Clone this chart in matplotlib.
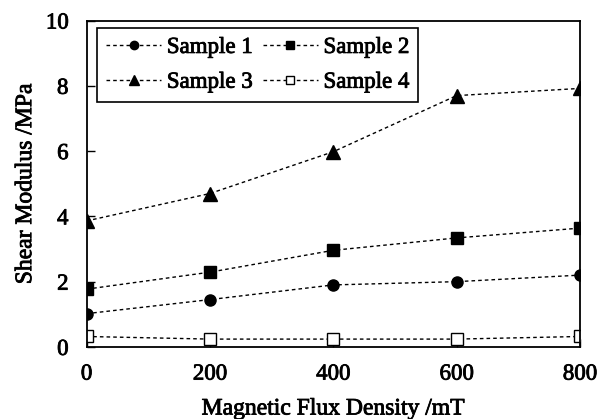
import matplotlib
matplotlib.use("Agg")
import matplotlib.pyplot as plt
import matplotlib.patheffects as pe

flux = [0, 200, 400, 600, 800]
sample1 = [1.02, 1.45, 1.90, 2.00, 2.20]
sample2 = [1.77, 2.29, 2.96, 3.34, 3.64]
sample3 = [3.86, 4.70, 5.98, 7.70, 7.92]
sample4 = [0.32, 0.24, 0.24, 0.24, 0.32]
labels = ["Sample 1", "Sample 2", "Sample 3", "Sample 4"]
xticks = [0, 200, 400, 600, 800]
yticks = [0, 2, 4, 6, 8, 10]

plt.rcParams['font.family'] = ['Liberation Serif', 'DejaVu Serif']
thick = [pe.withStroke(linewidth=0.6, foreground='black')]

fig = plt.figure(figsize=(6.01, 4.19), dpi=100)
ax = fig.add_axes([0.144, 0.172, 0.821, 0.779])

ls = (0, (2.6, 2.2))
common = dict(color='black', linestyle=ls, linewidth=1.0)
h1, = ax.plot(flux, sample1, marker='o', markersize=8, label=labels[0], **common)
h2, = ax.plot(flux, sample2, marker='s', markersize=8.5, label=labels[1], **common)
h3, = ax.plot(flux, sample3, marker='^', markersize=9.5, label=labels[2], **common)
h4, = ax.plot(flux, sample4, marker='s', markersize=8.5, markerfacecolor='white',
              markeredgewidth=1.0, label=labels[3], **common)

ax.set_xlim(0, 800)
ax.set_ylim(0, 10)
ax.set_xticks(xticks)
ax.set_yticks(yticks)
ax.tick_params(direction='in', length=6, width=1.0, labelsize=16.5)
ax.tick_params(axis='x', pad=12)
ax.tick_params(axis='y', pad=13)
for lab in ax.get_xticklabels() + ax.get_yticklabels():
    lab.set_path_effects(thick)
for s in ax.spines.values():
    s.set_linewidth(1.3)
    s.set_color('black')
xl = ax.set_xlabel("Magnetic Flux Density /mT", fontsize=17, labelpad=10)
yl = ax.set_ylabel("Shear Modulus /MPa", fontsize=17, labelpad=7)
xl.set_path_effects(thick)
yl.set_path_effects(thick)

leg = ax.legend([h1, h3, h2, h4], [labels[0], labels[2], labels[1], labels[3]],
                ncol=2, loc='upper left', bbox_to_anchor=(0.021, 0.978),
                borderaxespad=0, prop={'size': 16.5},
                frameon=True, fancybox=False, markerscale=0.75,
                edgecolor='black', handlelength=2.4, handletextpad=0.25,
                columnspacing=0.45, labelspacing=0.6, borderpad=0.4)
leg.get_frame().set_linewidth(1.2)
leg.get_frame().set_alpha(1)
for t in leg.get_texts():
    t.set_path_effects(thick)

fig.savefig("out.png", dpi=100)
